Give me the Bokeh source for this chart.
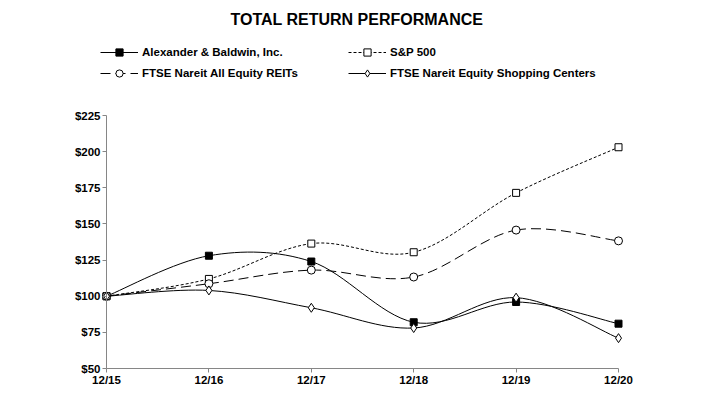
import numpy as np
from bokeh.plotting import figure
from bokeh.models import Range1d, FixedTicker, Legend, LegendItem, NumeralTickFormatter
from bokeh.embed import file_html
from bokeh.resources import INLINE

# ---- data ----
periods = ["12/15", "12/16", "12/17", "12/18", "12/19", "12/20"]
alexander_baldwin = [100, 128, 124, 82, 96, 81]
sp500 = [100, 111.96, 136.40, 130.42, 171.49, 203.04]
nareit_all_equity = [100, 108.63, 118.05, 113.28, 145.74, 138.28]
nareit_shopping = [100, 104, 92, 78, 99, 71]
y_ticks = [50, 75, 100, 125, 150, 175, 200, 225]

FONT = "Liberation Sans"
AXIS_GRAY = "#868686"

xs = list(range(len(periods)))


def smooth_segments(x, y):
    """Catmull-Rom style bezier control points (Excel-like smoothing)."""
    x = np.asarray(x, float)
    y = np.asarray(y, float)
    n = len(x)
    seg = dict(x0=[], y0=[], x1=[], y1=[], cx0=[], cy0=[], cx1=[], cy1=[])
    for i in range(n - 1):
        i0 = max(i - 1, 0)
        i3 = min(i + 2, n - 1)
        seg["x0"].append(x[i]); seg["y0"].append(y[i])
        seg["x1"].append(x[i + 1]); seg["y1"].append(y[i + 1])
        seg["cx0"].append(x[i] + (x[i + 1] - x[i0]) / 6)
        seg["cy0"].append(y[i] + (y[i + 1] - y[i0]) / 6)
        seg["cx1"].append(x[i + 1] - (x[i3] - x[i]) / 6)
        seg["cy1"].append(y[i + 1] - (y[i3] - y[i]) / 6)
    return seg


# layout geometry (pixels)
PX_X = 102.4          # pixels per category step
PX_Y = 253 / 175      # pixels per dollar
FRAME_LEFT, FRAME_RIGHT = 66, 646
FRAME_TOP, FRAME_BOTTOM = 30, 390
AXIS_X, AXIS_Y = 106, 368   # pixel position of (12/15, $50)

x_start = -(AXIS_X - FRAME_LEFT) / PX_X
x_end = x_start + (FRAME_RIGHT - FRAME_LEFT) / PX_X
y_start = 50 - (FRAME_BOTTOM - AXIS_Y) / PX_Y
y_end = 50 + (AXIS_Y - FRAME_TOP) / PX_Y

p = figure(frame_width=FRAME_RIGHT - FRAME_LEFT, frame_height=FRAME_BOTTOM - FRAME_TOP,
           x_range=Range1d(x_start, x_end), y_range=Range1d(y_start, y_end),
           output_backend="svg", toolbar_location=None,
           min_border_left=FRAME_LEFT, min_border_right=707 - FRAME_RIGHT,
           min_border_bottom=0, min_border_top=FRAME_TOP)

p.title.text = "TOTAL RETURN PERFORMANCE"
p.title.align = "left"
p.title.offset = 164
p.title.standoff = 6
p.title.text_font = FONT
p.title.text_font_size = "16px"
p.title.text_font_style = "bold"
p.title.text_color = "black"

p.outline_line_color = None
p.xgrid.visible = False
p.ygrid.visible = False
p.background_fill_color = "white"
p.border_fill_color = "white"

# axes
p.yaxis.fixed_location = 0
p.yaxis.bounds = (50, 225)
p.yaxis.ticker = FixedTicker(ticks=y_ticks)
p.yaxis.formatter = NumeralTickFormatter(format="$0")
p.xaxis.fixed_location = 50
p.xaxis.bounds = (0, 5)
p.xaxis.ticker = FixedTicker(ticks=xs)
p.xaxis.major_label_overrides = {i: lab for i, lab in enumerate(periods)}
for ax in (p.xaxis[0], p.yaxis[0]):
    ax.axis_line_color = AXIS_GRAY
    ax.major_tick_line_color = AXIS_GRAY
    ax.major_tick_in = 0
    ax.major_tick_out = 4
    ax.minor_tick_line_color = None
    ax.major_label_text_font = FONT
    ax.major_label_text_font_style = "bold"
    ax.major_label_text_font_size = "11.5px"
    ax.major_label_text_color = "black"
p.xaxis.major_label_standoff = 1
p.yaxis.major_label_standoff = 2

series = [
    ("Alexander & Baldwin, Inc.", alexander_baldwin, None, "square", "black", 7),
    ("S&P 500", sp500, "3 2", "square", "white", 7),
    ("FTSE Nareit All Equity REITs", nareit_all_equity, "10 5", "circle", "white", 8),
    ("FTSE Nareit Equity Shopping Centers", nareit_shopping, None, "diamond", "white", 9),
]

items = []
for name, vals, dash, marker, fill, size in series:
    seg = smooth_segments(xs, vals)
    kw = dict(line_color="black", line_width=1)
    if dash:
        kw["line_dash"] = dash
    r_line = p.bezier(x0=seg["x0"], y0=seg["y0"], x1=seg["x1"], y1=seg["y1"],
                      cx0=seg["cx0"], cy0=seg["cy0"], cx1=seg["cx1"], cy1=seg["cy1"], **kw)
    r_pts = p.scatter(xs, vals, marker=marker, size=size, fill_color=fill,
                      line_color="black", line_width=1)
    items.append(LegendItem(label=name, renderers=[r_line, r_pts]))

LEGEND_BOTTOM = 82


def make_legend(its, left):
    lg = Legend(items=its, location=(left - FRAME_LEFT, FRAME_BOTTOM - LEGEND_BOTTOM),
                orientation="vertical",
                glyph_width=38, glyph_height=18, label_height=18, label_standoff=4,
                spacing=3, padding=0, margin=0,
                border_line_color=None, background_fill_alpha=0,
                label_text_font=FONT, label_text_font_style="bold",
                label_text_font_size="11.5px", label_text_color="black")
    return lg


p.add_layout(make_legend([items[0], items[2]], 100))
p.add_layout(make_legend([items[1], items[3]], 348))

open("out.html", "w").write(file_html(p, INLINE))
